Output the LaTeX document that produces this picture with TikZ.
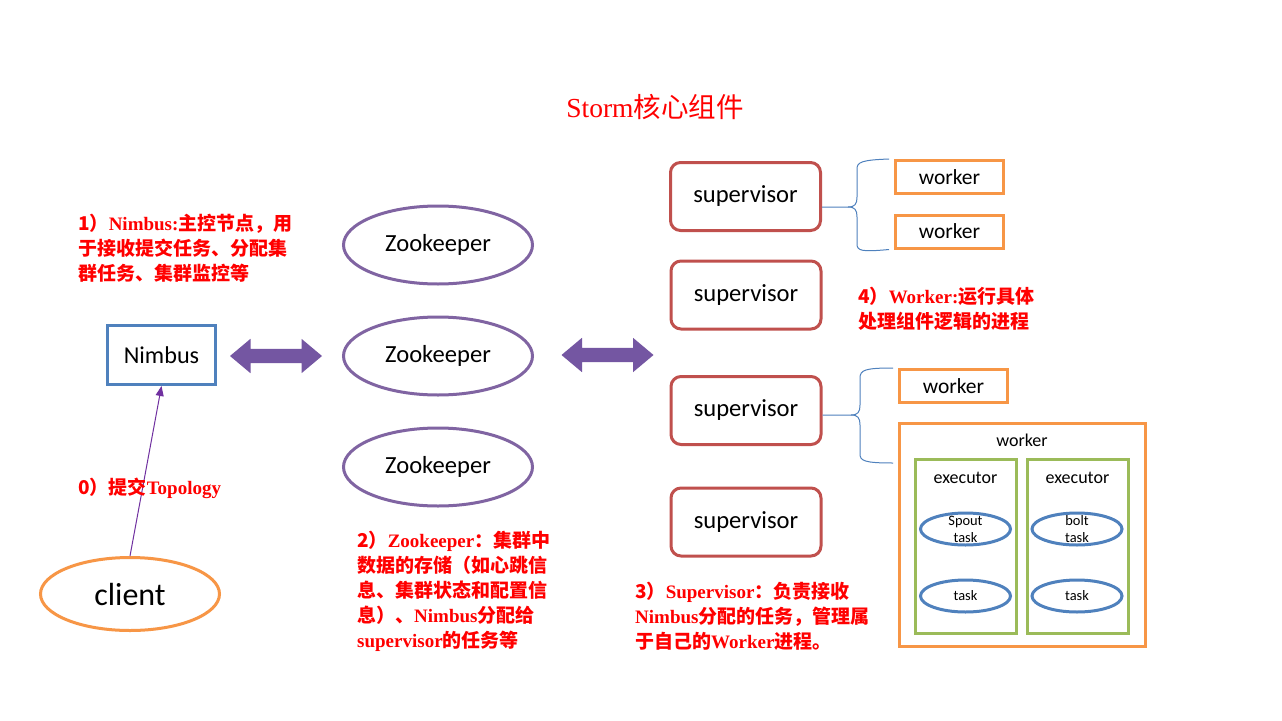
\documentclass[tikz,border=0pt]{standalone}
\usepackage{fontspec}
\setmainfont{Liberation Serif}
\newfontfamily\zhfont{Noto Sans CJK SC}
\newfontfamily\boxfont{Carlito}
\newcommand\zh[1]{{\zhfont #1}}
\usetikzlibrary{shapes.geometric,shapes.arrows,arrows.meta}
\definecolor{nbblue}{HTML}{4F81BD}
\definecolor{zkpurple}{HTML}{8064A2}
\definecolor{supred}{HTML}{C0504D}
\definecolor{worange}{HTML}{F79646}
\definecolor{exgreen}{HTML}{9BBB59}
\definecolor{arrpurple}{HTML}{7456A2}
\definecolor{topo}{HTML}{7030A0}
\begin{document}
\begin{tikzpicture}[x=1pt,y=-1pt,
  nimbusbox/.style={draw=nbblue,line width=3pt,minimum width=108pt,minimum height=59pt,inner sep=0pt,font=\boxfont\fontsize{24.2}{28}\selectfont},
  zkell/.style={ellipse,draw=zkpurple,line width=3pt,minimum width=189pt,minimum height=78pt,inner sep=0pt,font=\boxfont\fontsize{24.6}{28}\selectfont},
  supbox/.style={draw=supred,line width=3pt,rounded corners=10pt,minimum width=150pt,minimum height=68pt,inner sep=0pt,font=\boxfont\fontsize{24.6}{28}\selectfont},
  wbox/.style={draw=worange,line width=3pt,minimum width=108pt,minimum height=33pt,inner sep=0pt,font=\boxfont\fontsize{21.5}{24}\selectfont},
  exbox/.style={draw=exgreen,line width=3pt,minimum width=101pt,minimum height=174pt,inner sep=0pt},
  taskell/.style={ellipse,draw=nbblue,line width=3pt,minimum width=90pt,minimum height=32pt,inner xsep=0pt,inner ysep=-5pt,align=center,font=\boxfont\fontsize{14.4}{17}\selectfont},
  boxlabel/.style={inner sep=0pt,font=\boxfont\fontsize{18}{21}\selectfont},
  redtxt/.style={text=red,inner sep=0pt,anchor=north west,align=left,font=\fontsize{19}{25}\selectfont\bfseries},
  dbl/.style={double arrow,fill=arrpurple,inner xsep=0pt,inner ysep=7pt,minimum width=34pt,minimum height=92pt,double arrow head extend=10pt,double arrow tip angle=80},
  brace/.style={draw=nbblue,line width=1pt}]
\fill[white] (0,0) rectangle (1282,720);
\useasboundingbox (0,0) rectangle (1282,720);
\node[text=red,font=\fontsize{27.5}{30}\selectfont] (title) at (655,107) {Storm\zh{核心组件}};
\node[nimbusbox] (nimbus) at (161.5,355) {Nimbus};
\node[ellipse,draw=worange,line width=3pt,minimum width=179pt,minimum height=73pt,inner sep=0pt,font=\boxfont\fontsize{32}{35}\selectfont] (client) at (130,594) {client};
\draw[arrows={-Triangle[length=10pt,width=8pt]},color=topo,line width=1pt] (client.north) -- (nimbus.south);
\node[text=red,inner sep=0pt,anchor=west,font=\fontsize{19}{25}\selectfont\bfseries] (topolabel) at (78,488) {\zh{0）提交}Topology};
\node[redtxt] (nimbustext) at (78,214) {\zh{1）}Nimbus:\zh{主控节点，用}\\\zh{于接收提交任务、分配集}\\\zh{群任务、集群监控等}};
\node[zkell] (zk1) at (438,245) {Zookeeper};
\node[zkell] (zk2) at (438,356) {Zookeeper};
\node[zkell] (zk3) at (438,467) {Zookeeper};
\node[dbl] (arrowl) at (276,356) {};
\node[dbl] (arrowr) at (607.5,355) {};
\node[redtxt] (zktext) at (357,531) {\zh{2）}Zookeeper\zh{：集群中}\\\zh{数据的存储（如心跳信}\\\zh{息、集群状态和配置信}\\\zh{息）、}Nimbus\zh{分配给}\\supervisor\zh{的任务等}};
\node[supbox] (s1) at (745.5,196.5) {supervisor};
\node[supbox] (s2) at (746,295) {supervisor};
\node[supbox] (s3) at (746,410.5) {supervisor};
\node[supbox] (s4) at (746,522) {supervisor};
\node[redtxt] (suptext) at (635,582) {\zh{3）}Supervisor\zh{：负责接收}\\Nimbus\zh{分配的任务，管理属}\\\zh{于自己的}Worker\zh{进程。}};
\node[wbox] (w1) at (949.5,177) {worker};
\node[wbox] (w2) at (949.5,231.5) {worker};
\node[wbox] (w3) at (953.5,386) {worker};
\node[redtxt] (wtext) at (858,287) {\zh{4）}Worker:\zh{运行具体}\\\zh{处理组件逻辑的进程}};
\draw[brace] ([yshift=-10.5pt]s1.east) -- (848,207) .. controls (855,207) and (857,204) .. (857,197) -- (857,169) .. controls (857,162) and (862,160) .. ([xshift=-5pt]w1.north west);
\draw[brace] (848,207) .. controls (855,207) and (857,210) .. (857,217) -- (857,244) .. controls (857,251) and (862,252) .. ([xshift=-5pt]w2.south west);
\node[draw=worange,line width=3pt,minimum width=246pt,minimum height=223pt,inner sep=0pt] (wbig) at (1022.5,535) {};
\node[boxlabel] (wbigt) at (1022,440) {worker};
\coordinate (b2end) at (893,463);
\draw[brace] ([yshift=-4.5pt]s3.east) -- (851,415) .. controls (858,415) and (860,412) .. (860,405) -- (860,378) .. controls (860,370) and (865,368) .. ([xshift=-5pt]w3.north west);
\draw[brace] (851,415) .. controls (858,415) and (860,418) .. (860,425) -- (860,454) .. controls (860,461) and (865,463) .. (b2end);
\node[exbox] (ex1) at (965.5,546) {};
\node[exbox] (ex2) at (1077.5,546) {};
\node[boxlabel] (ex1t) at (965.5,478) {executor};
\node[boxlabel] (ex2t) at (1077.5,478) {executor};
\node[taskell] (t1) at (965.5,529) {Spout\\task};
\node[taskell] (t2) at (965.5,596) {task};
\node[taskell] (t3) at (1077,529) {bolt\\task};
\node[taskell] (t4) at (1077,596) {task};
\end{tikzpicture}
\end{document}
